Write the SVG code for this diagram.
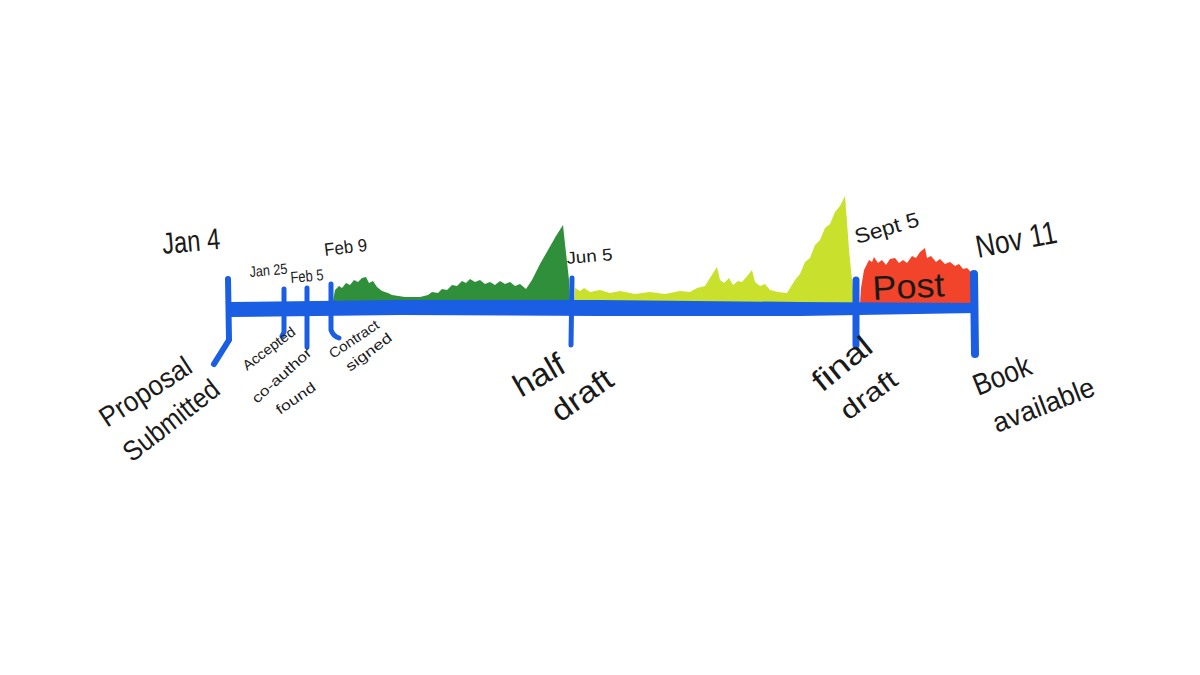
<svg xmlns="http://www.w3.org/2000/svg" width="1200" height="675" viewBox="0 0 1200 675">
<style>
.t{font-family:"Liberation Sans","DejaVu Sans",sans-serif;fill:#1a1a1a;}
.tk{fill:none;stroke:#1a5ee4;stroke-linecap:round;stroke-linejoin:round;}
</style>
<rect width="1200" height="675" fill="#ffffff"/>
<g id="areas">
<path id="green" fill="#2f8f3a" d="M333,301 L335,290 L339,286 L342,288 L346,283 L350,285 L354,280 L358,282 L362,278 L366,277 L369,283 L373,281 L377,287 L382,291 L388,293 L392,295 L405,297 L420,297 L428,295 L432,292 L438,293 L442,289 L447,290 L452,285 L457,286 L462,281 L466,283 L470,279 L475,282 L480,280 L485,284 L490,282 L495,285 L500,281 L505,284 L510,282 L515,286 L520,284 L526,289 L532,280 L540,264 L548,250 L556,236 L563,225 L565,244 L567,262 L569,280 L570,301 Z"/>
<path id="yellow" fill="#c9e02c" d="M574,302 L575,288 L580,291 L584,288 L590,292 L600,290 L610,293 L620,291 L635,294 L650,292 L665,294 L680,291 L690,292 L697,288 L705,286 L710,278 L717,267 L720,280 L724,283 L729,278 L733,285 L738,281 L742,282 L748,275 L752,270 L755,282 L760,286 L765,284 L770,290 L778,292 L787,293 L795,280 L800,274 L805,262 L810,258 L815,245 L820,240 L825,228 L830,224 L835,212 L840,206 L845,196 L847,222 L849,250 L852,280 L854,303 Z"/>
<path id="red" fill="#f2432b" d="M860,304 L861,288 L864,270 L867,264 L869,260 L872,262 L874,257 L878,263 L882,260 L886,265 L890,259 L895,258 L899,263 L903,260 L907,263 L912,256 L916,258 L920,252 L925,248 L927,258 L931,256 L936,262 L940,259 L945,264 L950,262 L955,266 L959,264 L963,269 L967,268 L971,272 L972,304 Z"/>
</g>
<g id="connectors">
<path id="bar" fill="#1a5ee4" d="M230,302 L400,300 L600,300 L800,302 L975,303 L975,313 L800,316 L600,316 L400,315 L230,317 Z"/>
<path class="tk" stroke-width="6" d="M228,279 L229,340 L214,364"/>
<path class="tk" stroke-width="5" d="M284,289 L284,332 L282,336"/>
<path class="tk" stroke-width="5" d="M307,288 L307,347"/>
<path class="tk" stroke-width="5" d="M331,284 L331,330 Q333,336 339,338"/>
<path class="tk" stroke-width="5" d="M572,278 L571,345"/>
<path class="tk" stroke-width="7" d="M856,280 L856,345"/>
<path class="tk" stroke-width="8" d="M974,274 L975,354"/>
</g>
<g id="labels">
<text class="t" font-size="30" x="163" y="254" textLength="58" lengthAdjust="spacingAndGlyphs" transform="rotate(-5 163 254)">Jan 4</text>
<text class="t" font-size="15" x="250" y="277" textLength="38" lengthAdjust="spacingAndGlyphs" transform="rotate(-5 250 277)">Jan 25</text>
<text class="t" font-size="16" x="291" y="283" textLength="33" lengthAdjust="spacingAndGlyphs" transform="rotate(-5 291 283)">Feb 5</text>
<text class="t" font-size="18" x="325" y="256" textLength="43" lengthAdjust="spacingAndGlyphs" transform="rotate(-7 325 256)">Feb 9</text>
<text class="t" font-size="17" x="567" y="264" textLength="46" lengthAdjust="spacingAndGlyphs" transform="rotate(-5 567 264)">Jun 5</text>
<text class="t" font-size="21" x="857" y="244" textLength="66" lengthAdjust="spacingAndGlyphs" transform="rotate(-16 857 244)">Sept 5</text>
<text class="t" font-size="32" x="978" y="258" textLength="82" lengthAdjust="spacingAndGlyphs" transform="rotate(-11 978 258)">Nov 11</text>
<text class="t" font-size="34" x="873" y="300" textLength="72" lengthAdjust="spacingAndGlyphs" transform="rotate(-3 873 300)">Post</text>
<text class="t" font-size="28" x="107" y="428" textLength="104" lengthAdjust="spacingAndGlyphs" transform="rotate(-33 107 428)">Proposal</text>
<text class="t" font-size="28" x="132" y="463" textLength="114" lengthAdjust="spacingAndGlyphs" transform="rotate(-38 132 463)">Submitted</text>
<text class="t" font-size="14" x="247" y="371" textLength="62" lengthAdjust="spacingAndGlyphs" transform="rotate(-37 247 371)">Accepted</text>
<text class="t" font-size="14" x="257" y="404" textLength="75" lengthAdjust="spacingAndGlyphs" transform="rotate(-42 257 404)">co-author</text>
<text class="t" font-size="14" x="280" y="415" textLength="45" lengthAdjust="spacingAndGlyphs" transform="rotate(-35 280 415)">found</text>
<text class="t" font-size="14" x="333" y="359" textLength="57" lengthAdjust="spacingAndGlyphs" transform="rotate(-34 333 359)">Contract</text>
<text class="t" font-size="14" x="350" y="372" textLength="54" lengthAdjust="spacingAndGlyphs" transform="rotate(-37 350 372)">signed</text>
<text class="t" font-size="32" x="521" y="398" textLength="54" lengthAdjust="spacingAndGlyphs" transform="rotate(-30 521 398)">half</text>
<text class="t" font-size="30" x="560" y="423" textLength="68" lengthAdjust="spacingAndGlyphs" transform="rotate(-35 560 423)">draft</text>
<text class="t" font-size="30" x="822" y="393" textLength="68" lengthAdjust="spacingAndGlyphs" transform="rotate(-39 822 393)">final</text>
<text class="t" font-size="26" x="848" y="421" textLength="64" lengthAdjust="spacingAndGlyphs" transform="rotate(-36 848 421)">draft</text>
<text class="t" font-size="30" x="978" y="396" textLength="60" lengthAdjust="spacingAndGlyphs" transform="rotate(-22 978 396)">Book</text>
<text class="t" font-size="28" x="997" y="433" textLength="107" lengthAdjust="spacingAndGlyphs" transform="rotate(-21 997 433)">available</text>
</g>
</svg>
